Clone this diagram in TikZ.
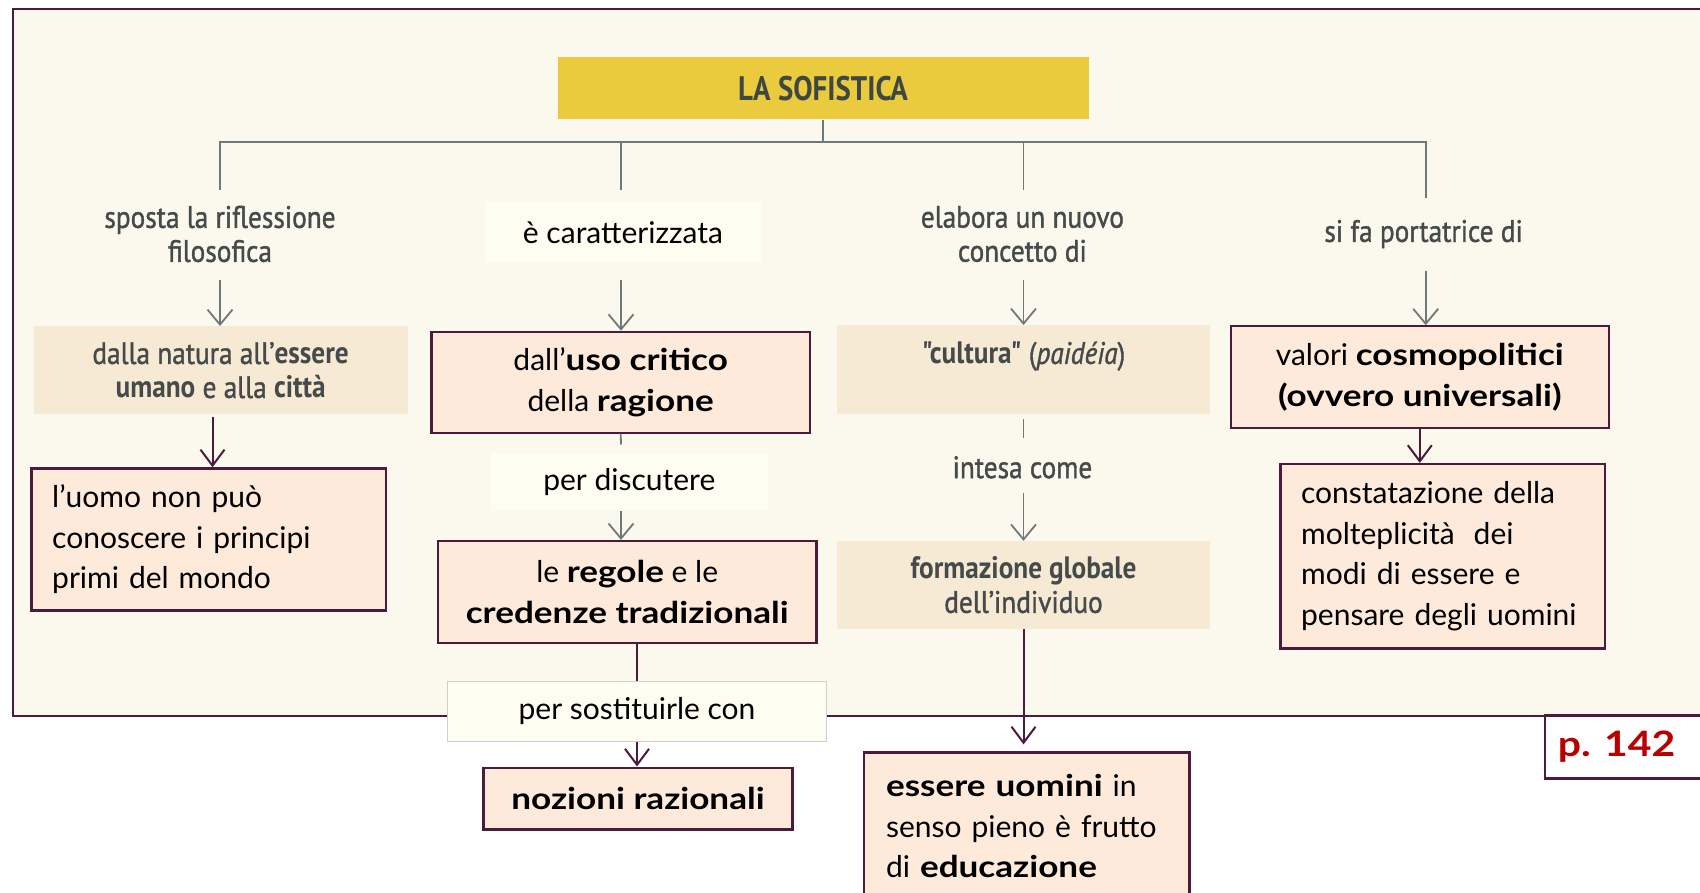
\documentclass[tikz,border=0pt]{standalone}
\usepackage{fontspec}
\usetikzlibrary{arrows.meta,calc}
\newfontfamily\latof[BoldFeatures={FakeStretch=1.17}]{Lato}
\newfontfamily\ptsf[FakeStretch=0.88, UprightFeatures={FakeBold=1.2}, ItalicFeatures={FakeBold=1.2}]{PT Sans}
\newfontfamily\titlef[FakeStretch=0.85]{PT Sans}
\definecolor{framec}{HTML}{4B1A3C}
\definecolor{bgc}{HTML}{FBF8EE}
\definecolor{titlec}{HTML}{EACB3E}
\definecolor{titletxt}{HTML}{3E4742}
\definecolor{linec}{HTML}{6E7A7A}
\definecolor{tanc}{HTML}{F7EAD4}
\definecolor{pinkc}{HTML}{FDEADB}
\definecolor{labc}{HTML}{FEFDF1}
\definecolor{graytxt}{HTML}{454A4A}
\definecolor{redc}{HTML}{B80000}
\begin{document}
\begin{tikzpicture}[x=1pt,y=-1pt,
  pinkbox/.style={draw=framec, line width=2.2pt, fill=pinkc, inner sep=0pt, align=center,
    font=\latof\fontsize{30}{40.5}\selectfont, text=black},
  tanbox/.style={fill=tanc, inner sep=0pt, align=center,
    font=\ptsf\fontsize{31}{34}\selectfont, text=graytxt},
  labbox/.style={fill=labc, inner sep=0pt, font=\latof\fontsize{30}{36}\selectfont, text=black},
  glabel/.style={inner sep=0pt, align=center, font=\ptsf\fontsize{31}{34}\selectfont, text=graytxt},
  gline/.style={draw=linec, line width=1.8pt},
  garrow/.style={gline, -{Straight Barb[length=15pt,width=25pt]}},
  pline/.style={draw=framec, line width=2pt},
  parrow/.style={pline, -{Straight Barb[length=16pt,width=24pt]}}
]
\useasboundingbox (0,0) rectangle (1700,893);
\fill[white] (0,0) rectangle (1700,893);
% frame
\fill[bgc] (13,8.7) rectangle (1720,715.6);
\draw[framec, line width=2.2pt] (1720,8.7) -- (13,8.7) -- (13,715.6) -- (1720,715.6);

% title
\node[fill=titlec, minimum width=531pt, minimum height=62pt, inner sep=0pt,
  font=\titlef\bfseries\fontsize{34}{34}\selectfont, text=titletxt] (T) at (823,88.4) {LA SOFISTICA};

% tree
\coordinate (H1) at (220,142);
\coordinate (H2) at (621,142);
\coordinate (H3) at (1023.5,142);
\coordinate (H4) at (1425.7,142);
\coordinate (E1) at (220,190);
\coordinate (E2) at (621,190);
\coordinate (E3) at (1023.5,190);
\coordinate (E4) at (1425.7,198);
\draw[gline] (T.south) -- (T.south |- H1);
\draw[gline, line join=miter] (E1) -- (H1) -- (H4) -- (E4);
\draw[gline] (H2) -- (E2);
\draw[gline] (H3) -- (E3);

% first-level labels
\node[glabel] (L1) at (220,234) {sposta la riflessione\\filosofica};
\node[labbox, minimum width=276.5pt, minimum height=60pt] (L2) at (623,232.5) {è caratterizzata};
\node[glabel] (L3) at (1022.4,234) {elabora un nuovo\\concetto di};
\node[glabel] (L4) at (1423.6,234) {si fa portatrice di};

% row 2
\node[tanbox, minimum width=374pt, minimum height=88pt] (B1) at (220.6,370.2)
  {dalla natura all’\textbf{essere}\\\textbf{umano} e alla \textbf{città}};
\node[pinkbox, minimum width=378.4pt, minimum height=100.8pt] (B2) at (620.7,382.2)
  {dall’\textbf{uso critico}\\della \textbf{ragione}};
\node[tanbox, minimum width=373pt, minimum height=89pt] (B3) at (1023.5,369.7)
  {\textbf{"cultura"} (\textit{paidéia})\\\mbox{}};
\node[pinkbox, minimum width=378.4pt, minimum height=102pt] (B4) at (1419.8,377.3)
  {valori \textbf{cosmopolitici}\\\textbf{(ovvero universali)}};

\coordinate (a1) at (220,279.7);
\coordinate (a2) at (621,279.7);
\coordinate (a3) at (1023.5,279.7);
\coordinate (a4) at (1425.7,271);
\draw[garrow] (a1) -- (a1 |- B1.north);
\draw[garrow] (a2) -- (a2 |- B2.north);
\draw[garrow] (a3) -- (a3 |- B3.north);
\draw[garrow] (a4) -- (a4 |- B4.north);

% row 3 left
\node[pinkbox, align=left, minimum width=354.6pt, minimum height=142pt, text width=313pt,
  inner xsep=20.6pt] (C1) at (208.7,539.4)
  {l’uomo non può\\conoscere i principi\\primi del mondo};
\coordinate (p1) at (212.5,417.4);
\draw[parrow] (p1) -- (p1 |- C1.north);

% column 2
\coordinate (g2) at (621,444.5);
\draw[gline] (B2.south) -- (g2);
\node[labbox, minimum width=276.5pt, minimum height=57.5pt] (D1) at (629.3,482) {per discutere};
\node[pinkbox, minimum width=378.4pt, minimum height=102pt] (C2) at (627.2,592)
  {le \textbf{regole} e le\\\textbf{credenze tradizionali}};
\draw[garrow] (D1.south -| g2) -- (C2.north -| g2);
\node[labbox, draw=linec!35, line width=0.8pt, minimum width=378.4pt, minimum height=60.7pt] (D2) at (637,711.3)
  {per sostituirle con};
\node[pinkbox, minimum width=309pt, minimum height=61.8pt] (C3) at (638,798.5)
  {\textbf{nozioni razionali}};
\draw[pline] (C2.south -| D2.north) -- (D2.north);
\draw[parrow] (D2.south) -- (D2.south |- C3.north);

% column 3
\coordinate (g3s) at (1023.5,418.5);
\coordinate (g3) at (1023.5,438);
\draw[gline] (g3s) -- (g3);
\node[glabel] (M1) at (1022.4,467.3) {intesa come};
\coordinate (a5) at (1023.5,493.3);
\node[tanbox, minimum width=373pt, minimum height=88pt] (C4) at (1023.5,585)
  {\textbf{formazione globale}\\dell’individuo};
\draw[garrow] (a5) -- (a5 |- C4.north);
\node[pinkbox, align=left, minimum width=325.4pt, minimum height=147pt, text width=281.4pt,
  inner xsep=22pt] (C5) at (1026.7,826)
  {\textbf{essere uomini} in\\senso pieno è frutto\\di \textbf{educazione}};
\draw[parrow, shorten >=7pt] (C4.south) -- (C4.south |- C5.north);

% column 4
\node[pinkbox, align=left, minimum width=324.2pt, minimum height=184.4pt, text width=282.8pt,
  inner xsep=20.7pt] (C6) at (1442.5,556.2)
  {constatazione della\\molteplicità\hspace{0.3em} dei\\modi di essere e\\pensare degli uomini};
\draw[parrow] (B4.south) -- (B4.south |- C6.north);

% page reference
\node[draw=framec, line width=2.2pt, fill=white, minimum width=175pt, minimum height=62.9pt,
  inner sep=0pt, font=\latof\bfseries\fontsize{35}{35}\selectfont, text=redc] (P) at (1632.5,747)
  {p. 142\hspace*{32pt}};
\end{tikzpicture}
\end{document}
